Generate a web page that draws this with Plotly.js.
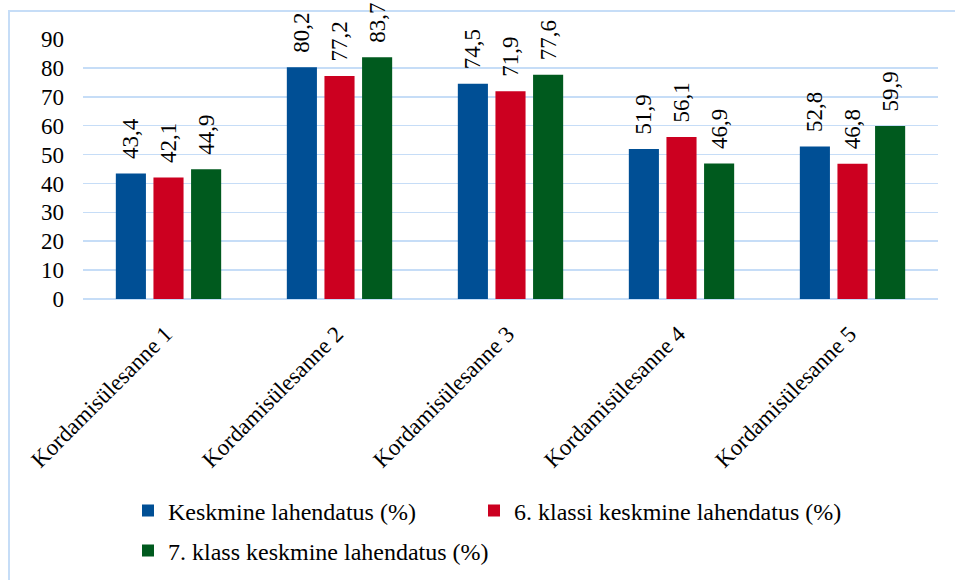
<!DOCTYPE html>
<html>
<head>
<meta charset="utf-8">
<script src="https://cdn.plot.ly/plotly-3.0.1.min.js"></script>
<style>
html,body{margin:0;padding:0;background:#fff;}
#chart{width:955px;height:580px;}
</style>
</head>
<body>
<div id="chart"></div>
<script>
const categories = ["Kordamisülesanne 1", "Kordamisülesanne 2", "Kordamisülesanne 3", "Kordamisülesanne 4", "Kordamisülesanne 5"];
const seriesNames = ["Keskmine lahendatus (%)", "6. klassi keskmine lahendatus (%)", "7. klass keskmine lahendatus (%)"];
const keskmine = [43.4, 80.2, 74.5, 51.9, 52.8];
const klass6 = [42.1, 77.2, 71.9, 56.1, 46.8];
const klass7 = [44.9, 83.7, 77.6, 46.9, 59.9];
const yTicks = [0, 10, 20, 30, 40, 50, 60, 70, 80, 90];

const colors = ["#004F95", "#CC0020", "#005A1E"];
const FONT = "Liberation Serif";
const fmt = v => "\u00a0\u00a0" + v.toFixed(1).replace(".", ",");
const legendIds = ["legend", "legend3", "legend2"];

const seriesData = [keskmine, klass6, klass7];
const traces = seriesData.map((vals, i) => ({
  type: "bar",
  name: seriesNames[i],
  x: categories,
  y: vals,
  text: vals.map(fmt),
  textposition: "outside",
  textangle: -90,
  constraintext: "none",
  cliponaxis: false,
  textfont: {family: FONT, size: 23, color: "#000"},
  marker: {color: colors[i]},
  hoverinfo: "skip",
  legend: legendIds[i]
}));

const L = 83, R = 17, T = 39, B = 281;
const W = 955, H = 580;
const pw = W - L - R, ph = H - T - B;
const px = x => (x - L) / pw;
const py = y => (H - B - y) / ph;

const legendBase = {
  orientation: "h", xanchor: "left", yanchor: "middle",
  font: {family: FONT, size: 24, color: "#000"},
  bgcolor: "rgba(0,0,0,0)"
};

const layout = {
  width: W, height: H,
  margin: {l: L, r: R, t: T, b: B, pad: 0, autoexpand: false},
  paper_bgcolor: "#fff",
  plot_bgcolor: "#fff",
  font: {family: FONT, size: 23, color: "#000"},
  barmode: "group",
  bargap: 0.34,
  bargroupgap: 0.2,
  showlegend: true,
  xaxis: {
    tickangle: -45,
    tickfont: {family: FONT, size: 23, color: "#000"},
    ticklabelstandoff: 16,
    ticklabelshift: -3,
    showgrid: false,
    showline: false,
    ticks: "",
    automargin: false
  },
  yaxis: {
    range: [0, 90],
    tickvals: yTicks,
    ticktext: yTicks.map(String),
    tickfont: {family: FONT, size: 23, color: "#000"},
    ticklabelstandoff: 18,
    showgrid: true,
    gridcolor: "#C6DDF7",
    gridwidth: 1.5,
    zeroline: true,
    zerolinecolor: "#C6DDF7",
    zerolinewidth: 1.5,
    showline: false,
    ticks: "",
    automargin: false
  },
  legend: Object.assign({}, legendBase, {x: px(128), y: py(511)}),
  legend3: Object.assign({}, legendBase, {x: px(474), y: py(511)}),
  legend2: Object.assign({}, legendBase, {x: px(128), y: py(551)}),
  shapes: [{
    type: "rect", xref: "paper", yref: "paper",
    x0: px(9), x1: px(1200), y0: py(11), y1: py(900),
    line: {color: "#C6DDF7", width: 2}, fillcolor: "rgba(0,0,0,0)", layer: "below"
  }]
};

Plotly.newPlot("chart", traces, layout, {staticPlot: true, displayModeBar: false});
</script>
</body>
</html>
